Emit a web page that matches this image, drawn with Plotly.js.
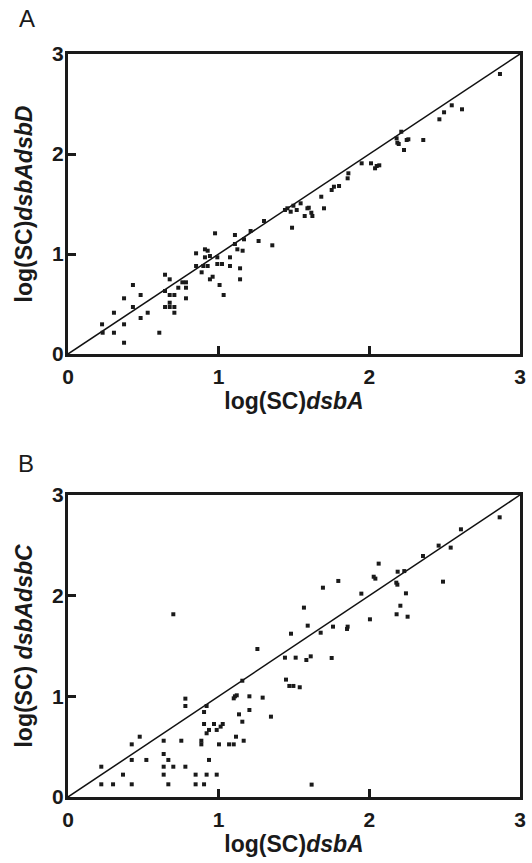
<!DOCTYPE html>
<html>
<head>
<meta charset="utf-8">
<script src="https://cdn.plot.ly/plotly-3.0.1.min.js"></script>
<style>html,body{margin:0;padding:0;background:#fff;}#chart{width:532px;height:863px;}</style>
</head>
<body>
<div id="chart"></div>
<script>
// Panel A: log(SC) dsbA vs log(SC) dsbAdsbD
const aX = [0.226,0.230,0.305,0.305,0.372,0.372,0.372,0.431,0.431,0.482,0.482,0.529,0.606,0.644,0.675,0.644,0.675,0.706,0.644,0.675,0.706,0.675,0.706,0.732,0.759,0.783,0.783,0.783,0.85,0.85,0.887,0.898,0.927,0.909,0.927,0.909,0.942,0.942,0.96,0.976,0.991,0.991,1.022,1.006,1.033,1.075,1.075,1.108,1.108,1.124,1.142,1.142,1.159,1.168,1.212,1.265,1.301,1.356,
  1.44,1.456,1.478,1.487,1.496,1.518,1.544,1.571,1.589,1.598,1.615,1.622,1.681,1.699,1.75,1.765,1.799,1.856,1.861,1.949,2.011,2.038,2.049,2.066,2.181,2.186,2.195,2.212,2.23,2.248,2.259,2.358,2.465,2.496,2.547,2.615,2.867];
const aY = [0.297,0.213,0.413,0.213,0.557,0.297,0.113,0.69,0.47,0.59,0.36,0.413,0.213,0.793,0.747,0.63,0.59,0.59,0.47,0.47,0.47,0.513,0.413,0.663,0.717,0.717,0.663,0.557,1.007,0.88,0.817,0.88,0.88,1.047,1.033,0.967,0.98,0.747,0.773,1.207,0.967,0.9,0.9,0.69,0.59,0.967,0.88,1.19,1.1,1.047,0.857,0.747,1.033,1.147,1.23,1.13,1.33,1.087,
  1.44,1.457,1.423,1.263,1.483,1.44,1.507,1.38,1.457,1.463,1.413,1.38,1.573,1.457,1.64,1.673,1.68,1.757,1.807,1.907,1.907,1.857,1.88,1.887,2.157,2.113,2.1,2.223,2.04,2.14,2.147,2.14,2.347,2.417,2.487,2.447,2.8];

// Panel B: log(SC) dsbA vs log(SC) dsbAdsbC
const bX = [0.221,0.221,0.299,0.365,0.423,0.423,0.423,0.476,0.52,0.699,0.635,0.635,0.666,0.635,0.699,0.635,0.666,0.752,0.779,0.779,0.779,0.847,0.847,0.885,0.885,0.903,0.92,0.903,0.92,0.936,0.936,0.903,0.92,0.969,0.987,0.987,1.002,1.013,1.027,1.069,1.1,1.1,1.108,1.12,1.115,1.135,1.157,1.157,1.166,1.204,1.204,1.257,1.292,1.347,
  1.44,1.447,1.469,1.496,1.48,1.511,1.538,1.566,1.582,1.591,1.611,1.617,1.677,1.692,1.75,1.759,1.794,1.852,1.856,1.947,2.004,2.029,2.04,2.062,2.179,2.186,2.188,2.181,2.206,2.232,2.243,2.254,2.356,2.46,2.489,2.54,2.608,2.865];
const bY = [0.301,0.126,0.126,0.222,0.523,0.368,0.126,0.599,0.368,1.815,0.559,0.427,0.368,0.301,0.301,0.222,0.126,0.559,0.977,0.904,0.301,0.222,0.126,0.559,0.523,0.844,0.904,0.725,0.633,0.666,0.368,0.126,0.222,0.725,0.666,0.222,0.523,0.699,0.725,0.523,0.523,0.98,1.0,1.01,0.599,0.821,0.748,1.155,0.559,1.0,0.864,1.47,0.987,0.798,
  1.384,1.166,1.103,1.103,1.622,1.384,1.09,1.881,1.361,1.702,1.397,0.123,1.632,2.079,1.381,1.692,2.146,1.669,1.692,2.02,1.765,2.188,2.169,2.318,2.129,2.109,2.238,1.815,1.9,2.244,2.023,1.791,2.394,2.497,2.139,2.477,2.659,2.778];

const diagonal = [0, 3];
const tickVals = [0, 1, 2, 3];
const tickText = ['0', '1', '2', '3'];

const FONT = 'Liberation Sans, Arial, sans-serif';
const markerStyle = {symbol: 'square', size: 4, color: '#1a1a1a'};
const lineStyle = {color: '#111', width: 1.5};

const traces = [
  {x: diagonal, y: diagonal, mode: 'lines', line: lineStyle, xaxis: 'x', yaxis: 'y', hoverinfo: 'skip'},
  {x: aX, y: aY, mode: 'markers', marker: markerStyle, xaxis: 'x', yaxis: 'y'},
  {x: diagonal, y: diagonal, mode: 'lines', line: lineStyle, xaxis: 'x2', yaxis: 'y2', hoverinfo: 'skip'},
  {x: bX, y: bY, mode: 'markers', marker: markerStyle, xaxis: 'x2', yaxis: 'y2'}
];

function axis(extra) {
  return Object.assign({
    range: [0, 3],
    tickvals: tickVals,
    ticktext: tickText,
    ticks: 'inside',
    ticklen: 8,
    tickwidth: 3,
    tickcolor: '#1a1a1a',
    showline: true,
    linewidth: 3,
    linecolor: '#1a1a1a',
    mirror: true,
    showgrid: false,
    zeroline: false,
    fixedrange: true,
    tickfont: {family: FONT, size: 21, color: '#1a1a1a', weight: 'bold'}
  }, extra);
}

const titleFont = {family: FONT, size: 23, color: '#1a1a1a', weight: 'bold'};

const layout = {
  width: 532,
  height: 863,
  margin: {l: 68, r: 12, t: 54, b: 66},
  paper_bgcolor: '#fff',
  plot_bgcolor: '#fff',
  showlegend: false,
  xaxis: axis({domain: [0, 1], anchor: 'y', ticklabelstandoff: 2,
    title: {text: 'log(SC)<i>dsbA</i>', font: titleFont, standoff: 2}}),
  yaxis: axis({domain: [0.5962, 1], anchor: 'x', ticklabelstandoff: -3,
    title: {text: 'log(SC)<i>dsbAdsbD</i>', font: titleFont, standoff: 14}}),
  xaxis2: axis({domain: [0, 1], anchor: 'y2', ticklabelstandoff: 2,
    title: {text: 'log(SC)<i>dsbA</i>', font: titleFont, standoff: 6}}),
  yaxis2: axis({domain: [0, 0.4065], anchor: 'x2', ticklabelstandoff: -3,
    title: {text: 'log(SC) <i>dsbAdsbC</i>', font: titleFont, standoff: 14}}),
  annotations: [
    {text: 'A', xref: 'paper', yref: 'paper', x: -68/452 + 17/452, y: 1 + 54/743 - 19/743,
     xanchor: 'left', yanchor: 'middle', showarrow: false,
     font: {family: FONT, size: 24, color: '#1a1a1a'}},
    {text: 'B', xref: 'paper', yref: 'paper', x: -68/452 + 16/452, y: (797 - 464)/743,
     xanchor: 'left', yanchor: 'middle', showarrow: false,
     font: {family: FONT, size: 24, color: '#1a1a1a'}}
  ]
};

Plotly.newPlot('chart', traces, layout, {displayModeBar: false, staticPlot: true});
</script>
</body>
</html>
